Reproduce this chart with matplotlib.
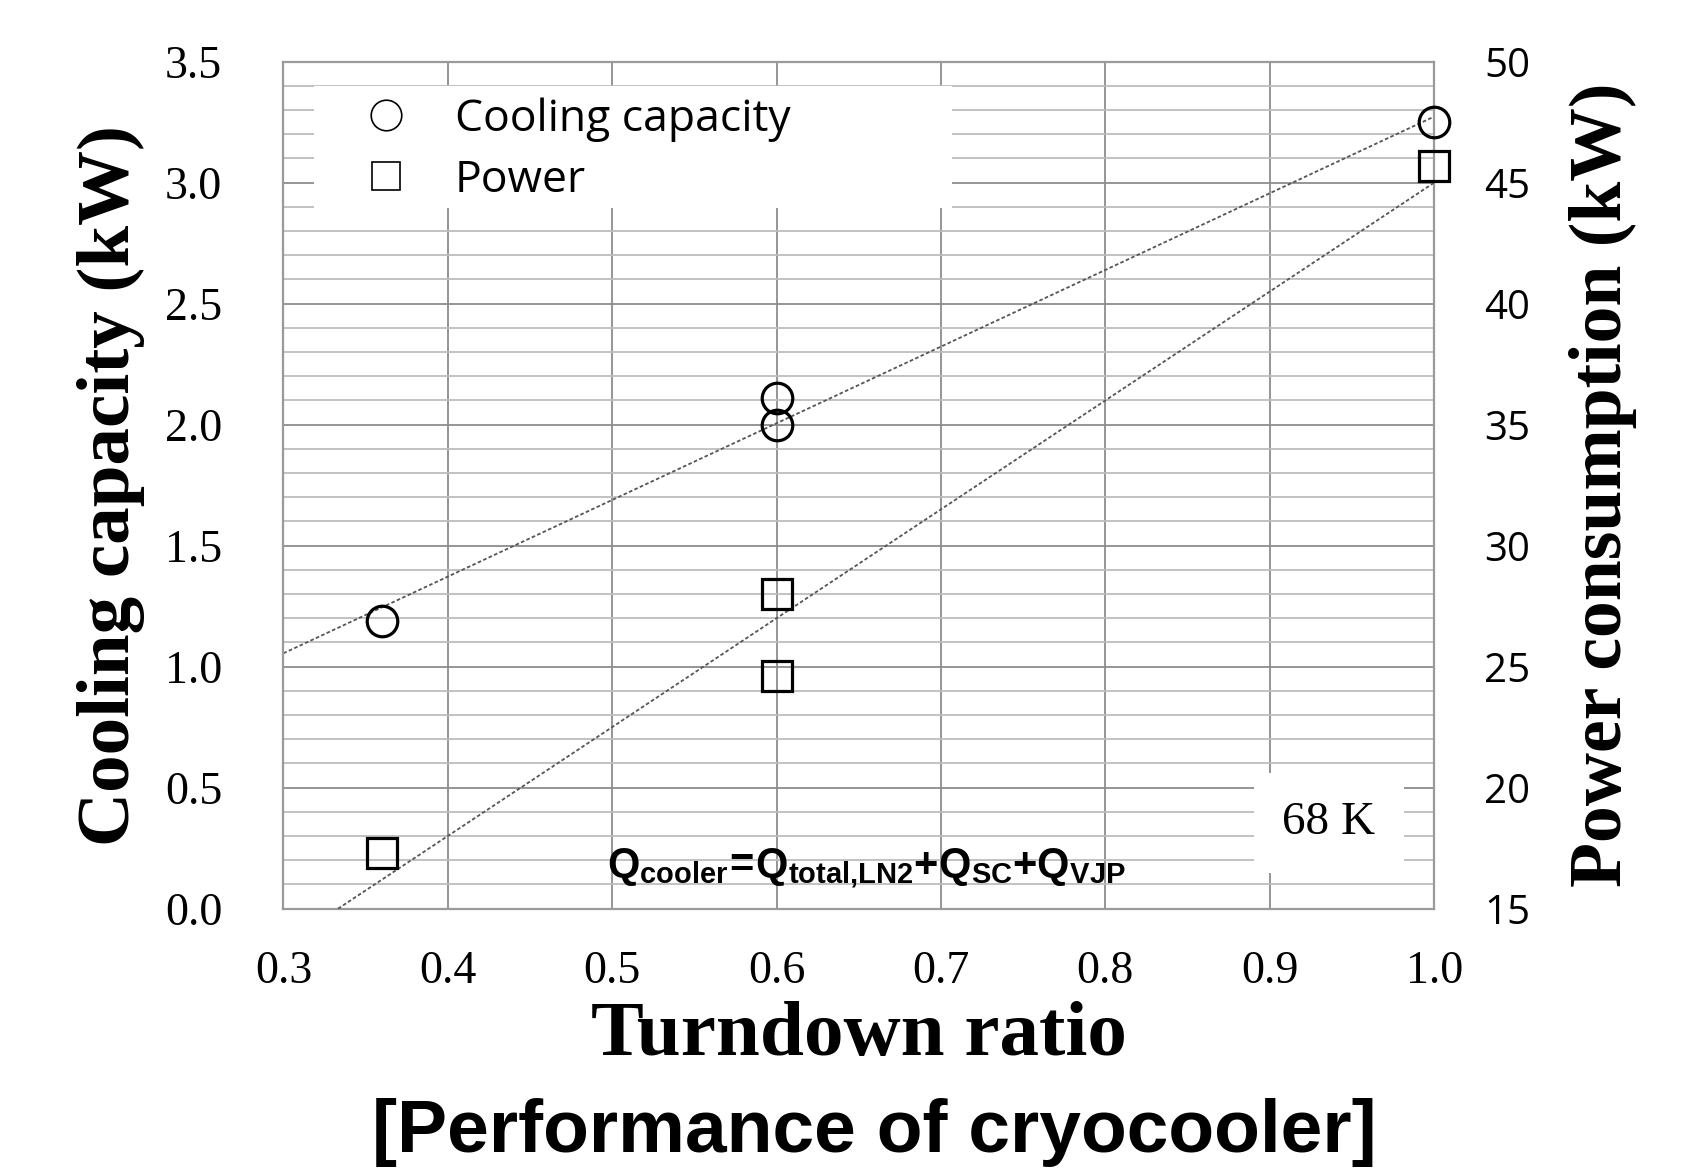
import numpy as np
import matplotlib
matplotlib.use('Agg')
import matplotlib.pyplot as plt
from matplotlib.lines import Line2D
from matplotlib.patches import Rectangle
from matplotlib.ticker import MultipleLocator, FormatStrFormatter

# data
turndown = [0.36, 0.60, 0.60, 1.00]
cooling_kw = [1.19, 2.00, 2.11, 3.25]
power_kw = [17.3, 24.6, 28.0, 45.7]

# dotted trend lines (end points)
trend_x = [0.30, 1.00]
cooling_trend = [1.055, 3.273]
power_trend = [13.5, 45.0]

x_ticks = [0.3, 0.4, 0.5, 0.6, 0.7, 0.8, 0.9, 1.0]
left_ticks = [0.0, 0.5, 1.0, 1.5, 2.0, 2.5, 3.0, 3.5]
right_ticks = [15, 20, 25, 30, 35, 40, 45, 50]

plt.rcParams['mathtext.fontset'] = 'custom'
plt.rcParams['mathtext.rm'] = 'Liberation Sans'
plt.rcParams['mathtext.bf'] = 'Liberation Sans:bold'

serif = 'Liberation Serif'
sans = 'Open Sans'

fig = plt.figure(figsize=(16.96, 11.68), dpi=100)
ax = fig.add_axes([0.1671, 0.2221, 0.6785, 0.7251])

ax.set_xlim(0.3, 1.0)
ax.set_ylim(0.0, 3.5)
ax.set_xticks(x_ticks)
ax.set_yticks(left_ticks)
ax.xaxis.set_major_formatter(FormatStrFormatter('%.1f'))
ax.yaxis.set_major_formatter(FormatStrFormatter('%.1f'))
ax.yaxis.set_minor_locator(MultipleLocator(0.1))
ax.set_axisbelow(True)
ax.grid(True, which='major', axis='both', color='#8c8c8c', lw=1.3)
ax.grid(True, which='minor', axis='y', color='#bdbdbd', lw=1.3)
ax.tick_params(which='both', length=0)
ax.tick_params(axis='y', pad=44)
ax.tick_params(axis='x', pad=30)
for lab in ax.get_xticklabels() + ax.get_yticklabels():
    lab.set_fontfamily(serif)
    lab.set_fontsize(33)
for sp in ax.spines.values():
    sp.set_color('#9a9a9a')
    sp.set_linewidth(1.6)

# white box behind the legend
ax.add_patch(Rectangle((0.0266, 0.827), 0.554, 0.144, transform=ax.transAxes,
                       facecolor='white', edgecolor='none', zorder=1))

ax.plot(trend_x, cooling_trend, color='#555555', lw=1.3, ls=(0, (2, 1.3)), zorder=2)
ax.plot(turndown, cooling_kw, ls='none', marker='o', ms=22, mfc='none',
        mec='black', mew=2.3, zorder=3, clip_on=False)

ax.set_xlabel('Turndown ratio', family=serif, weight='bold', fontsize=57, labelpad=6)
ax.set_ylabel('Cooling capacity (kW)', family=serif, weight='bold', fontsize=54, labelpad=14)

ax2 = ax.twinx()
ax2.set_ylim(15, 50)
ax2.set_yticks(right_ticks)
ax2.tick_params(length=0, pad=36)
for lab in ax2.get_yticklabels():
    lab.set_fontfamily(sans)
    lab.set_fontsize(29)
for sp in ax2.spines.values():
    sp.set_visible(False)
ax2.plot(trend_x, power_trend, color='#555555', lw=1.3, ls=(0, (2, 1.3)), zorder=2)
ax2.plot(turndown, power_kw, ls='none', marker='s', ms=22, mfc='none',
         mec='black', mew=2.3, zorder=3, clip_on=False)
ax2.set_ylabel('Power consumption (kW)', family=serif, weight='bold', fontsize=53,
               rotation=90, labelpad=28)

handles = [
    Line2D([], [], ls='none', marker='o', ms=22, mfc='none', mec='black', mew=1.2),
    Line2D([], [], ls='none', marker='s', ms=20, mfc='none', mec='black', mew=1.2),
]
leg = ax2.legend(handles, ['Cooling capacity', 'Power'], loc='upper left',
                 bbox_to_anchor=(0.070, 0.958), frameon=False, borderpad=0,
                 borderaxespad=0, handlelength=1.0, handletextpad=1.05,
                 labelspacing=0.37, prop={'family': sans, 'size': 32})

ax2.text(0.9085, 0.101, '68 K', transform=ax.transAxes, ha='center', va='center',
         family=serif, fontsize=34,
         bbox=dict(boxstyle='square,pad=0.6', facecolor='white', edgecolor='none'))

formula = r'$\mathbf{Q_{cooler}\!=\!Q_{total{,}LN2}{+}Q_{SC}{+}Q_{VJP}}$'
ax2.text(0.281, 0.0373, formula, transform=ax.transAxes, ha='left', va='baseline',
         fontsize=30)

fig.text(874 / 1696, 0.0137, '[Performance of cryocooler]', ha='center', va='baseline',
         family=['Liberation Sans Narrow', 'Liberation Sans'], weight='bold', fontsize=54)

fig.savefig('out.png', dpi=100)
